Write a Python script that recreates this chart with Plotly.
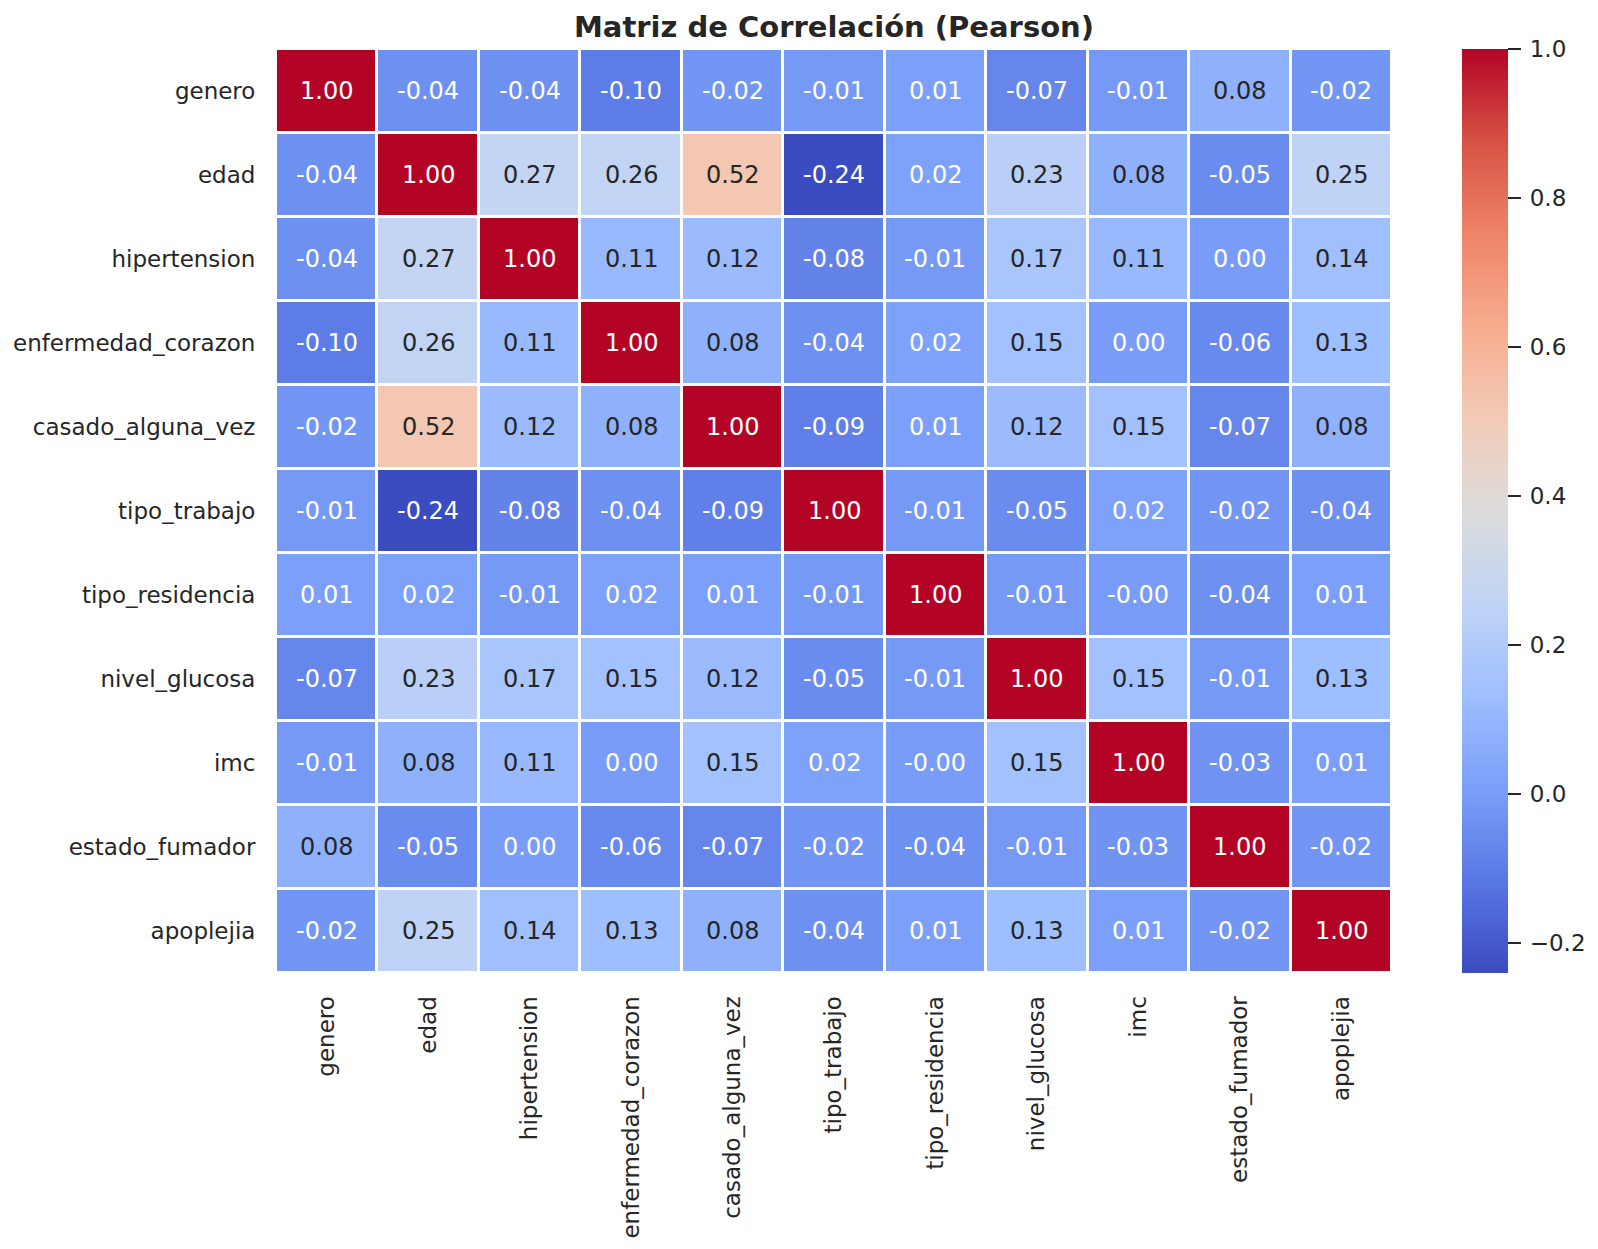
import plotly.graph_objects as go

labels = ["genero", "edad", "hipertension", "enfermedad_corazon", "casado_alguna_vez",
          "tipo_trabajo", "tipo_residencia", "nivel_glucosa", "imc", "estado_fumador", "apoplejia"]

row_genero = [1.00, -0.04, -0.04, -0.10, -0.02, -0.01, 0.01, -0.07, -0.01, 0.08, -0.02]
row_edad = [-0.04, 1.00, 0.27, 0.26, 0.52, -0.24, 0.02, 0.23, 0.08, -0.05, 0.25]
row_hipertension = [-0.04, 0.27, 1.00, 0.11, 0.12, -0.08, -0.01, 0.17, 0.11, 0.00, 0.14]
row_enfermedad_corazon = [-0.10, 0.26, 0.11, 1.00, 0.08, -0.04, 0.02, 0.15, 0.00, -0.06, 0.13]
row_casado_alguna_vez = [-0.02, 0.52, 0.12, 0.08, 1.00, -0.09, 0.01, 0.12, 0.15, -0.07, 0.08]
row_tipo_trabajo = [-0.01, -0.24, -0.08, -0.04, -0.09, 1.00, -0.01, -0.05, 0.02, -0.02, -0.04]
row_tipo_residencia = [0.01, 0.02, -0.01, 0.02, 0.01, -0.01, 1.00, -0.01, -0.00, -0.04, 0.01]
row_nivel_glucosa = [-0.07, 0.23, 0.17, 0.15, 0.12, -0.05, -0.01, 1.00, 0.15, -0.01, 0.13]
row_imc = [-0.01, 0.08, 0.11, 0.00, 0.15, 0.02, -0.00, 0.15, 1.00, -0.03, 0.01]
row_estado_fumador = [0.08, -0.05, 0.00, -0.06, -0.07, -0.02, -0.04, -0.01, -0.03, 1.00, -0.02]
row_apoplejia = [-0.02, 0.25, 0.14, 0.13, 0.08, -0.04, 0.01, 0.13, 0.01, -0.02, 1.00]

matrix = [row_genero, row_edad, row_hipertension, row_enfermedad_corazon, row_casado_alguna_vez,
          row_tipo_trabajo, row_tipo_residencia, row_nivel_glucosa, row_imc, row_estado_fumador,
          row_apoplejia]

cb_ticks = [-0.2, 0.0, 0.2, 0.4, 0.6, 0.8, 1.0]

# matplotlib "coolwarm" approximation
cw_hex = ['#3b4cc0', '#5977e3', '#7b9ff9', '#9ebeff', '#c0d4f5', '#dddcdc',
          '#f2cbb7', '#f7ac8e', '#ee8468', '#d65244', '#b40426']
colorscale = [[i / (len(cw_hex) - 1), c] for i, c in enumerate(cw_hex)]

zmin = min(min(r) for r in matrix)
zmax = max(max(r) for r in matrix)


def hex_rgb(h):
    return tuple(int(h[i:i + 2], 16) for i in (1, 3, 5))


def color_at(v):
    t = (v - zmin) / (zmax - zmin)
    t = min(max(t, 0.0), 1.0)
    n = len(cw_hex) - 1
    i = min(int(t * n), n - 1)
    f = t * n - i
    a, b = hex_rgb(cw_hex[i]), hex_rgb(cw_hex[i + 1])
    return tuple(a[k] + (b[k] - a[k]) * f for k in range(3))


def lum(rgb):
    out = []
    for c in rgb:
        c = c / 255.0
        out.append(c / 12.92 if c <= 0.03928 else ((c + 0.055) / 1.055) ** 2.4)
    return 0.2126 * out[0] + 0.7152 * out[1] + 0.0722 * out[2]


def cb_label(v):
    s = f"{v:.1f}"
    if s.startswith("-"):
        s = "\u2212" + s[1:]
    return "\u2009" + s


FONT = "DejaVu Sans"
DARK = "#262626"

fig = go.Figure()
fig.add_trace(go.Heatmap(
    z=matrix, x=labels, y=labels,
    colorscale=colorscale, zmin=zmin, zmax=zmax,
    xgap=3, ygap=3,
    colorbar=dict(
        thickness=46, thicknessmode="pixels",
        len=1.0, lenmode="fraction", y=0.5, yanchor="middle", ypad=0,
        x=1.0623, xanchor="left", xpad=0,
        outlinewidth=0,
        tickvals=cb_ticks, ticktext=[cb_label(v) for v in cb_ticks],
        ticks="outside", ticklen=13, tickwidth=2, tickcolor=DARK,
        tickfont=dict(family=FONT, size=23, color=DARK),
    ),
    hoverinfo="skip",
))

annotations = []
for i, rl in enumerate(labels):
    for j, cl in enumerate(labels):
        v = matrix[i][j]
        col = DARK if lum(color_at(v)) > 0.408 else "white"
        annotations.append(dict(
            x=cl, y=rl, xref="x", yref="y", text=f"{v:.2f}", showarrow=False,
            font=dict(family=FONT, size=24, color=col),
        ))

fig.update_layout(
    width=1598, height=1249,
    margin=dict(l=276, r=206, t=49, b=276, autoexpand=False),
    paper_bgcolor="white", plot_bgcolor="white",
    title=dict(text="<b>Matriz de Correlación (Pearson)</b>",
               x=0.5, xref="paper", xanchor="center",
               y=1 - 26.5 / 1249, yref="container", yanchor="middle",
               font=dict(family=FONT, size=29, color=DARK)),
    annotations=annotations,
    xaxis=dict(tickangle=-90, tickfont=dict(family=FONT, size=23, color=DARK),
               ticks="outside", ticklen=13, tickcolor="rgba(0,0,0,0)",
               showgrid=False, zeroline=False, showline=False, automargin=False),
    yaxis=dict(autorange="reversed", tickfont=dict(family=FONT, size=23, color=DARK),
               ticks="outside", ticklen=15, tickcolor="rgba(0,0,0,0)",
               showgrid=False, zeroline=False, showline=False, automargin=False),
)

fig.write_html("out.html")
